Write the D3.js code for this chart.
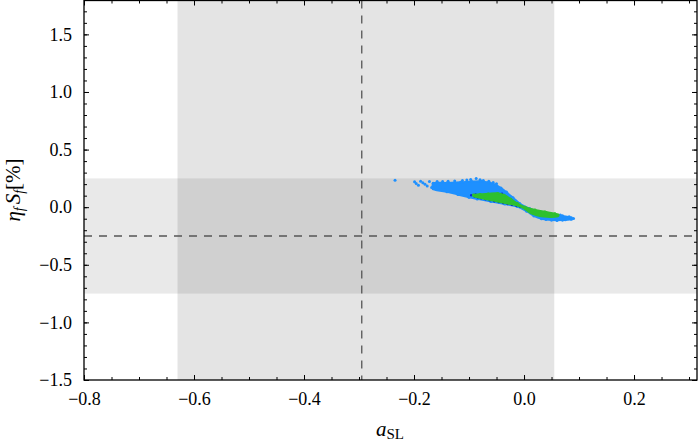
<!DOCTYPE html>
<html>
<head>
<meta charset="utf-8">
<script src="https://cdnjs.cloudflare.com/ajax/libs/d3/7.8.5/d3.min.js"></script>
<style>
  body { margin: 0; background: #fff; }
  svg { display: block; }
  .axis path { display: none; }
  .axis line { stroke: #000; stroke-width: 1; }
</style>
</head>
<body>
<svg id="chart" width="700" height="445"></svg>
<script>
// axis ticks
var xMajor = [-0.8, -0.6, -0.4, -0.2, 0.0, 0.2];
var yMajor = [-1.5, -1.0, -0.5, 0.0, 0.5, 1.0, 1.5];

// shaded 1 sigma bands and central values
var xBand = [-0.63, 0.055];
var yBand = [-0.75, 0.25];
var xCentral = -0.295;
var yCentral = -0.25;

// blue scan points: dense core outline + scattered fringe points
var blueTop = [[-0.165,0.206],[-0.140,0.210],[-0.115,0.216],[-0.095,0.222],[-0.078,0.224],[-0.064,0.214],
  [-0.052,0.194],[-0.042,0.166],[-0.032,0.130],[-0.020,0.082],[-0.008,0.032],[0.010,-0.012],
  [0.030,-0.040],[0.050,-0.060],[0.070,-0.076],[0.086,-0.092]];
var blueBottom = [[-0.165,0.160],[-0.140,0.134],[-0.120,0.110],[-0.100,0.086],[-0.085,0.072],[-0.060,0.050],
  [-0.035,0.028],[-0.012,0.006],[0.005,-0.035],[0.018,-0.075],[0.032,-0.100],[0.050,-0.112],
  [0.070,-0.112],[0.086,-0.104]];
var blueDots = [[-0.2345,0.234],[-0.199,0.220],[-0.196,0.205],[-0.192,0.190],[-0.188,0.226],[-0.184,0.212],
  [-0.180,0.198],[-0.176,0.184],[-0.172,0.222],[-0.168,0.170],[-0.165,0.206],[-0.162,0.192],
  [-0.158,0.224],[-0.153,0.176],[-0.148,0.222],[-0.144,0.150],[-0.138,0.226],[-0.132,0.140],
  [-0.126,0.228],[-0.118,0.110],[-0.112,0.232],[-0.104,0.236],[-0.097,0.240],[-0.087,0.250],
  [-0.080,0.238],[-0.074,0.232],[-0.064,0.226],[-0.056,0.214],[-0.050,0.204],[0.060,-0.116],
  [0.075,-0.110],[0.082,-0.084],[0.090,-0.098],[0.066,-0.068],[0.040,-0.106]];

// green points (dense band)
var greenTop = [[-0.092,0.106],[-0.080,0.112],[-0.065,0.116],[-0.048,0.120],[-0.036,0.104],[-0.024,0.070],
  [-0.012,0.032],[0.002,0.000],[0.020,-0.024],[0.038,-0.040],[0.056,-0.056],[0.062,-0.068]];
var greenBottom = [[-0.092,0.096],[-0.080,0.082],[-0.065,0.066],[-0.048,0.050],[-0.030,0.032],[-0.012,0.014],
  [0.000,-0.010],[0.010,-0.045],[0.022,-0.068],[0.036,-0.082],[0.050,-0.086],[0.062,-0.078]];

// navy points along the lower edge of the green band
var navyDots = [[-0.096,0.104],[-0.090,0.092],[-0.084,0.084],[-0.078,0.077],[-0.070,0.068],
  [-0.062,0.060],[-0.054,0.052],[-0.046,0.044],[-0.038,0.036],[-0.030,0.028],[-0.022,0.020],
  [-0.014,0.012],[-0.007,0.004],[-0.088,0.110],[-0.060,0.112],[-0.040,0.116]];

var svg = d3.select('#chart');
var mLeft = 84, mRight = 697, mTop = 0.5, mBottom = 380;
var serif = "'Liberation Serif', serif";

var x = d3.scaleLinear().domain([-0.8, 0.3145]).range([mLeft, mRight]);
var y = d3.scaleLinear().domain([-1.5, 1.794]).range([mBottom, mTop]);

var xMinor = d3.range(-0.8, 0.3146, 0.05);
var yMinor = d3.range(-1.5, 1.8, 0.1);

// bands
var g = svg.append('g');
g.append('rect')
  .attr('x', x(xBand[0])).attr('y', mTop)
  .attr('width', x(xBand[1]) - x(xBand[0])).attr('height', mBottom - mTop)
  .style('fill', '#000').style('fill-opacity', 0.105);
g.append('rect')
  .attr('x', mLeft).attr('y', y(yBand[1]))
  .attr('width', mRight - mLeft).attr('height', y(yBand[0]) - y(yBand[1]))
  .style('fill', '#000').style('fill-opacity', 0.085);

// scatter clouds
var cloud = d3.line().x(function(d) { return x(d[0]); }).y(function(d) { return y(d[1]); })
  .curve(d3.curveCatmullRomClosed);

function drawCloud(topPts, botPts, color) {
  g.append('path')
    .attr('d', cloud(topPts.concat(botPts.slice().reverse())))
    .style('fill', color).style('stroke', color).style('stroke-width', 2);
}
function drawDots(pts, color, r) {
  g.selectAll(null).data(pts).enter().append('circle')
    .attr('cx', function(d) { return x(d[0]); })
    .attr('cy', function(d) { return y(d[1]); })
    .attr('r', r).style('fill', color);
}

drawCloud(blueTop, blueBottom, '#1e90ff');
drawDots(blueDots, '#1e90ff', 1.5);
drawDots(blueTop, '#1e90ff', 1.6);
drawDots(blueBottom, '#1e90ff', 1.6);
drawDots(navyDots, '#1020d0', 1.2);
drawCloud(greenTop, greenBottom, '#2ec02e');
drawDots(greenTop, '#2ec02e', 1.4);

// dashed central values
g.append('line')
  .attr('x1', x(xCentral)).attr('x2', x(xCentral))
  .attr('y1', mTop).attr('y2', mBottom)
  .style('stroke', '#555').style('stroke-width', 1.3).style('stroke-dasharray', '8,7');
g.append('line')
  .attr('x1', mLeft).attr('x2', mRight)
  .attr('y1', y(yCentral)).attr('y2', y(yCentral))
  .style('stroke', '#555').style('stroke-width', 1.3).style('stroke-dasharray', '8,7');

// axes (ticks pointing inward)
var fmt = d3.format('.1f');
function addAxis(axis, tr) {
  var a = svg.append('g').attr('class', 'axis').attr('transform', tr).call(axis);
  a.selectAll('text')
    .style('font-family', serif).style('font-size', '18px').style('fill', '#000');
  return a;
}
addAxis(d3.axisBottom(x).tickValues(xMinor).tickSize(-3).tickFormat(''), 'translate(0,' + mBottom + ')');
addAxis(d3.axisBottom(x).tickValues(xMajor).tickSize(-5).tickPadding(12).tickFormat(fmt), 'translate(0,' + mBottom + ')');
addAxis(d3.axisTop(x).tickValues(xMinor).tickSize(-3).tickFormat(''), 'translate(0,' + mTop + ')');
addAxis(d3.axisTop(x).tickValues(xMajor).tickSize(-5).tickFormat(''), 'translate(0,' + mTop + ')');
addAxis(d3.axisLeft(y).tickValues(yMinor).tickSize(-3).tickFormat(''), 'translate(' + mLeft + ',0)');
addAxis(d3.axisLeft(y).tickValues(yMajor).tickSize(-5).tickPadding(12).tickFormat(fmt), 'translate(' + mLeft + ',0)');
addAxis(d3.axisRight(y).tickValues(yMinor).tickSize(-3).tickFormat(''), 'translate(' + mRight + ',0)');
addAxis(d3.axisRight(y).tickValues(yMajor).tickSize(-5).tickFormat(''), 'translate(' + mRight + ',0)');

// frame
svg.append('rect')
  .attr('x', mLeft).attr('y', mTop).attr('width', mRight - mLeft).attr('height', mBottom - mTop)
  .style('fill', 'none').style('stroke', '#000').style('stroke-width', 1.3);

// axis titles
var xt = svg.append('text')
  .attr('x', 390).attr('y', 436)
  .attr('text-anchor', 'middle')
  .style('font-family', serif).style('font-size', '21px');
xt.append('tspan').style('font-style', 'italic').text('a');
xt.append('tspan').attr('dy', 3).style('font-size', '15px').text('SL');

var yt = svg.append('text')
  .attr('transform', 'translate(20,190) rotate(-90)')
  .attr('text-anchor', 'middle')
  .style('font-family', serif).style('font-size', '21px');
yt.append('tspan').style('font-style', 'italic').text('η');
yt.append('tspan').attr('dy', 4).style('font-size', '14px').style('font-style', 'italic').text('f');
yt.append('tspan').attr('dy', -4).attr('dx', 3).style('font-style', 'italic').text('S');
yt.append('tspan').attr('dy', 4).style('font-size', '14px').style('font-style', 'italic').text('f');
yt.append('tspan').attr('dy', -4).text('[%]');
</script>
</body>
</html>
